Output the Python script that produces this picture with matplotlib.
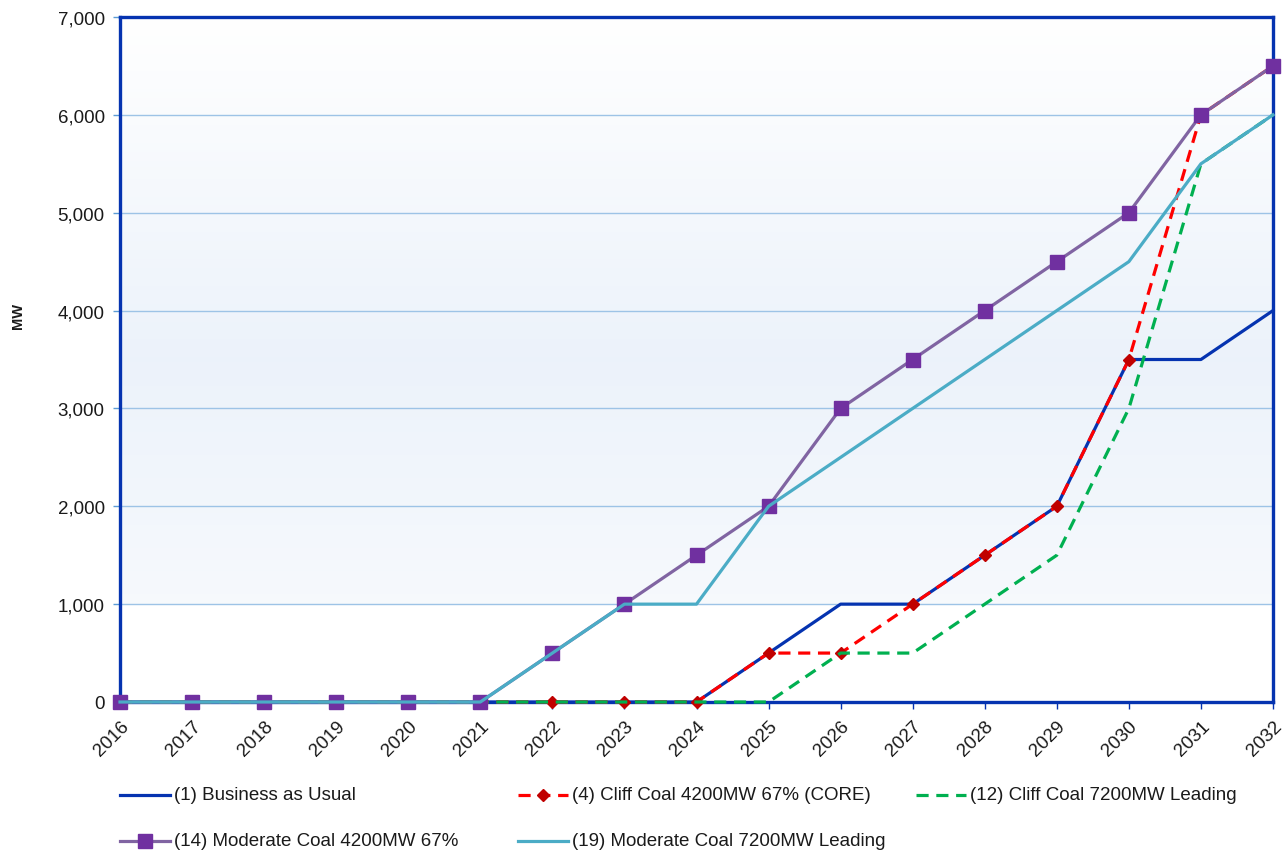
import numpy as np
import matplotlib
matplotlib.use("Agg")
import matplotlib.pyplot as plt
from matplotlib.lines import Line2D

plt.rcParams['font.family'] = ['Liberation Sans', 'DejaVu Sans']

years = list(range(2016, 2033))
year_labels = [str(y) for y in years]

bau = [0, 0, 0, 0, 0, 0, 0, 0, 0, 500, 1000, 1000, 1500, 2000, 3500, 3500, 4000]
cliff_core = [0, 0, 0, 0, 0, 0, 0, 0, 0, 500, 500, 1000, 1500, 2000, 3500, 6000, 6500]
cliff_lead = [0, 0, 0, 0, 0, 0, 0, 0, 0, 0, 500, 500, 1000, 1500, 3000, 5500, 6000]
moderate_67 = [0, 0, 0, 0, 0, 0, 500, 1000, 1500, 2000, 3000, 3500, 4000, 4500, 5000, 6000, 6500]
moderate_lead = [0, 0, 0, 0, 0, 0, 500, 1000, 1000, 2000, 2500, 3000, 3500, 4000, 4500, 5500, 6000]

names = [
    "(1) Business as Usual",
    "(4) Cliff Coal 4200MW 67% (CORE)",
    "(12) Cliff Coal 7200MW Leading",
    "(14) Moderate Coal 4200MW 67%",
    "(19) Moderate Coal 7200MW Leading",
]
y_ticks = [0, 1000, 2000, 3000, 4000, 5000, 6000, 7000]

W, H = 1286, 854
fig = plt.figure(figsize=(W / 100, H / 100), dpi=100)
ax = fig.add_axes([120 / W, (H - 703) / H, (1273 - 120) / W, (703 - 18) / H])

# plot-area gradient: white at the top, pale blue mid-height, white again near zero
f = np.linspace(0, 1, 400)
t = np.interp(f, [0, 1 / 7 - 0.001, 1 / 7, 0.5, 1.0], [0.0, 0.0, 0.45, 1.0, 0.0])
c_hi = np.array([0.925, 0.950, 0.982])
img = (1 - t)[:, None] * np.ones(3) + t[:, None] * c_hi
ax.imshow(img[:, None, :], extent=[0, 1, 0, 1], transform=ax.transAxes,
          aspect='auto', origin='lower', zorder=0, interpolation='bilinear')

x = np.arange(len(years))
lw = 2.3
styles = [
    dict(color='#0533B0', lw=lw, ls='-'),
    dict(color='#FF0000', lw=lw, ls=(0, (3.8, 2.4)), marker='D', ms=6.2,
         mfc='#C00000', mec='#C00000'),
    dict(color='#00B050', lw=lw, ls=(0, (3.8, 2.4))),
    dict(color='#8064A2', lw=lw, ls='-', marker='s', ms=10,
         mfc='#7030A0', mec='#7030A0'),
    dict(color='#4BACC6', lw=lw, ls='-'),
]
series = [bau, cliff_core, cliff_lead, moderate_67, moderate_lead]
for i, (vals, st) in enumerate(zip(series, styles)):
    ax.plot(x, vals, zorder=3 + i, clip_on=False, **st)

ax.set_xlim(0, len(years) - 1)
ax.set_ylim(0, 7000)
ax.set_yticks(y_ticks)
ax.set_yticklabels([f"{v:,}" for v in y_ticks], fontsize=13.5, color='#1a1a1a')
ax.set_xticks(x)
ax.set_xticklabels(year_labels, rotation=45, ha='right', va='top',
                   rotation_mode='anchor', fontsize=13.5, color='#1a1a1a')
ax.tick_params(axis='y', direction='out', length=5, width=1, color='#5B9BD5', pad=6)
ax.tick_params(axis='x', direction='out', length=5, width=1, color='#0533B0', pad=6)

ax.grid(axis='y', color='#9DC3E6', lw=1, zorder=1)
ax.set_axisbelow(True)
for sp in ax.spines.values():
    sp.set_color('#0533B0')
    sp.set_linewidth(2.4)
    sp.set_zorder(2)

fig.text(18 / W, 1 - 316 / H, "MW", rotation=90, ha='center', va='center',
         fontsize=10.5, fontweight='bold', color='#1a1a1a')

# legend laid out in two rows of three columns
entries = [(0, 120, 796), (1, 518, 796), (2, 916, 796), (3, 120, 842), (4, 518, 842)]
for idx, lx, ly in entries:
    st = dict(styles[idx])
    yy = 1 - ly / H
    line = Line2D([lx / W, (lx + 50) / W], [yy, yy], transform=fig.transFigure,
                  color=st['color'], lw=st['lw'], ls=st['ls'])
    fig.add_artist(line)
    if 'marker' in st:
        mk = Line2D([(lx + 25) / W], [yy], transform=fig.transFigure, ls='none',
                    marker=st['marker'], ms=st['ms'], mfc=st['mfc'], mec=st['mec'])
        fig.add_artist(mk)
    fig.text((lx + 54) / W, yy, names[idx], ha='left', va='center',
             fontsize=13.5, color='#1a1a1a')

fig.savefig("out.png", dpi=100, facecolor='white')
